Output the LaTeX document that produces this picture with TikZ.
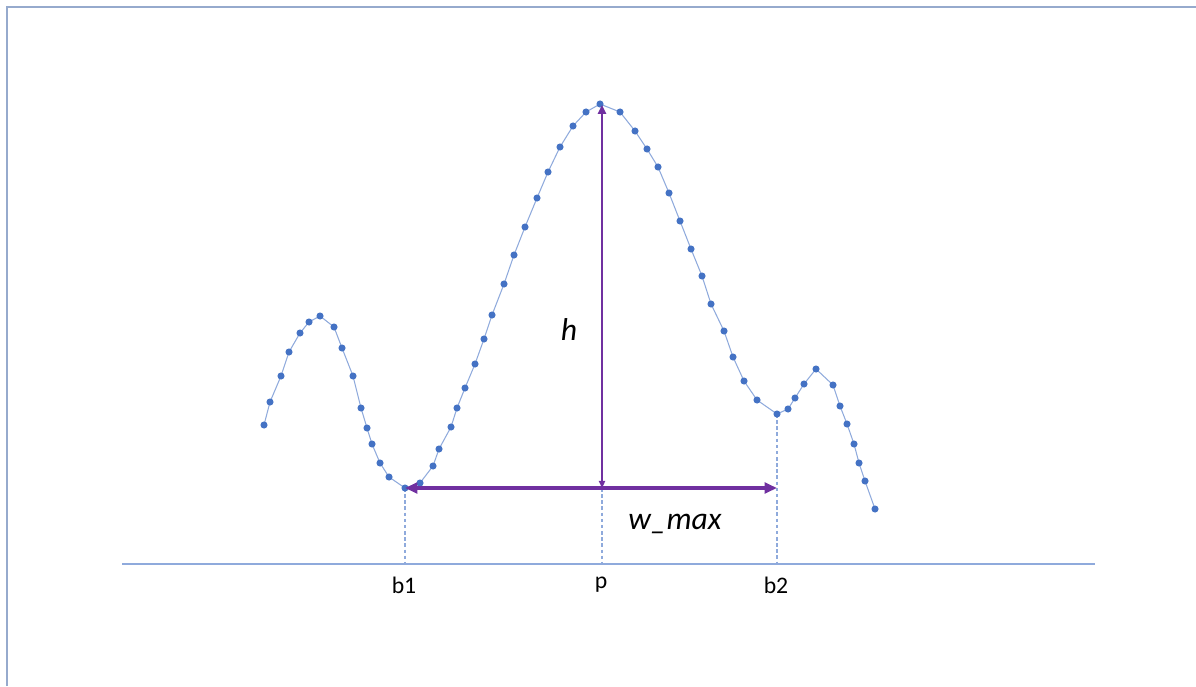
\documentclass[tikz,border=0pt]{standalone}
\usepackage{fontspec}
\setmainfont{Carlito}
\usetikzlibrary{arrows.meta}

\definecolor{curveblue}{RGB}{143,170,220}
\definecolor{dotblue}{RGB}{68,114,196}
\definecolor{framegray}{RGB}{150,170,205}
\definecolor{measurepurple}{RGB}{112,48,160}

\tikzset{
  frame/.style={draw=framegray, line width=1.2pt},
  axis/.style={draw=curveblue, line width=0.8pt},
  signal/.style={draw=curveblue, line width=0.6pt, mark=*, mark size=1.7pt,
    mark options={draw=dotblue, fill=dotblue}},
  guide/.style={draw=curveblue, line width=0.6pt, dash pattern=on 2pt off 1.5pt},
  measure/.style={draw=measurepurple, line width=1.9pt,
    {Triangle[length=7pt,width=6pt]}-{Triangle[length=7pt,width=6pt]}},
  height-measure/.style={draw=measurepurple, line width=1.3pt,
    {Triangle[length=4pt,width=3.5pt]}-{Triangle[length=5pt,width=4.5pt]}},
  label/.style={font=\fontsize{13.5}{16}\selectfont},
  big-label/.style={font=\fontsize{18}{21}\selectfont\itshape}
}

\begin{document}
\begin{tikzpicture}[x=0.02cm,y=-0.02cm]

\useasboundingbox (0,0) rectangle (1196,686);

\coordinate (b1) at (405,488);
\coordinate (p) at (602,488);
\coordinate (peak) at (602,105);
\coordinate (b2) at (777,414);
\coordinate (b2-level) at (777,488);

\coordinate (b1-axis) at (405,564);
\coordinate (p-axis) at (602,564);
\coordinate (b2-axis) at (777,564);
\coordinate (axis-left) at (122,564);
\coordinate (axis-right) at (1095,564);

\draw [frame] (7,686) -- (7,7) -- (1196,7);

\draw [axis] (axis-left) -- (axis-right);

\draw [guide] (b1) -- (b1-axis);
\draw [guide] (p) -- (p-axis);
\draw [guide] (b2) -- (b2-axis);

\draw [signal] plot coordinates {
  (264,425) (270,402) (281,376) (289,352) (300,333) (309,322) (320,316)
  (334,327) (342,348) (353,376) (361,408) (367,428) (372,444) (380,463)
  (389,477) (405,488) (420,483) (433,466) (439,449) (451,427) (457,408)
  (465,388) (475,364) (484,339) (492,315) (504,284) (514,255) (525,227)
  (537,198) (548,172) (560,147) (573,126) (586,112) (600,104) (620,112)
  (635,131) (647,149) (658,167) (669,193) (680,221) (691,249) (702,276)
  (711,304) (724,331) (733,357) (744,381) (757,400) (777,414) (788,409)
  (795,398) (804,384) (816,369) (833,385) (840,406) (847,424) (854,444)
  (859,463) (865,481) (875,509)
};

\draw [height-measure] (p) -- (peak);
\draw [measure] (b1) -- (b2-level);

\node [big-label] (h-label) at (569,330) {h};
\node [big-label] (w-max-label) at (675,524) {w\_max};
\node [label] (b1-label) at (404,585) {b1};
\node [label] (p-label) at (601,585) {p};
\node [label] (b2-label) at (776,585) {b2};

\end{tikzpicture}
\end{document}
